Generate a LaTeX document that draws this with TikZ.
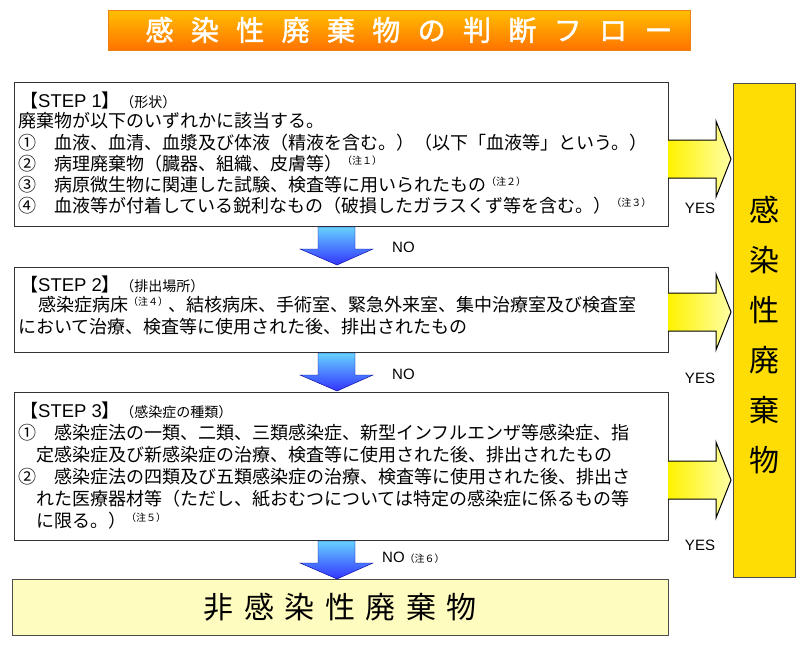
\documentclass[tikz,border=0pt]{standalone}
\usepackage{fontspec}
\setmainfont{Noto Sans CJK JP}
\newfontfamily\jpf{Noto Sans CJK JP}
\newfontfamily\titlef[LetterSpace=62,FakeBold=1.5]{Noto Sans CJK JP}
\newfontfamily\bigf[LetterSpace=35]{Noto Sans CJK JP}
\newfontfamily\latf{Liberation Sans}
\newcommand{\chu}[1]{\raisebox{6pt}{\fontsize{10}{10}\selectfont #1}}
\begin{document}
\begin{tikzpicture}[x=1pt,y=-1pt,
  stepbox/.style={draw=black!80,line width=1pt,fill=white},
  txt/.style={anchor=west,inner sep=0,font=\fontsize{18}{19}\selectfont},
  downarrow/.style={draw=blue!60!black,line width=0.4pt,top color=cyan!70!blue!60,bottom color=blue!80},
  yesarrow/.style={draw=black,line width=1pt,left color=yellow!90!orange,right color=yellow!35},
  lab/.style={font=\latf\fontsize{15}{15}\selectfont,inner sep=0}]
\useasboundingbox (0,0) rectangle (809,645);
\fill[white] (0,0) rectangle (809,645);
% title
\node[draw=orange!70!brown,line width=1pt,minimum width=582pt,minimum height=40pt,top color=orange!50!yellow,bottom color=orange!90!red,inner sep=0] (title) at (399,30)
  {\titlef\fontsize{28}{28}\selectfont\color{white}\hspace*{20pt}感染性廃棄物の判断フロー};
% right box
\node[draw=black!70,line width=1pt,fill=yellow!80!orange,minimum width=62pt,minimum height=494pt,inner sep=0] (res) at (764,330) {};
\foreach \c [count=\i] in {感,染,性,廃,棄,物}
  \node[inner sep=0,font=\fontsize{30}{30}\selectfont] (r\i) at (764,160+50*\i) {\c};
% boxes
\node[stepbox,minimum width=654pt,minimum height=144pt,inner sep=0] (s1) at (341,154) {};
\node[stepbox,minimum width=654pt,minimum height=85pt,inner sep=0] (s2) at (341,309.5) {};
\node[stepbox,minimum width=654pt,minimum height=148pt,inner sep=0] (s3) at (341,466) {};
\node[draw=black!70,line width=1pt,fill=yellow!25,minimum width=656pt,minimum height=56pt,inner sep=0] (s4) at (340,607)
  {\bigf\fontsize{30}{30}\selectfont 非感染性廃棄物};
% step1 text
\node[txt] (a1) at (20,100) {【\latf\fontsize{18.5}{18}\selectfont STEP 1\jpf】\fontsize{14}{14}\selectfont（形状）};
\node[txt] (a2) at (18,121) {廃棄物が以下のいずれかに該当する。};
\node[txt] (a3) at (18,143) {①\quad 血液、血清、血漿及び体液（精液を含む。）（以下「血液等」という。）};
\node[txt] (a4) at (18,164) {②\quad 病理廃棄物（臓器、組織、皮膚等）\chu{（注１）}};
\node[txt] (a5) at (18,185) {③\quad 病原微生物に関連した試験、検査等に用いられたもの\chu{（注２）}};
\node[txt] (a6) at (18,206) {④\quad 血液等が付着している鋭利なもの（破損したガラスくず等を含む。）\chu{（注３）}};
% step2 text
\node[txt] (b1) at (20,284) {【\latf\fontsize{18.5}{18}\selectfont STEP 2\jpf】\fontsize{14}{14}\selectfont（排出場所）};
\node[txt] (b2) at (38,305) {感染症病床\chu{（注４）}、結核病床、手術室、緊急外来室、集中治療室及び検査室};
\node[txt] (b3) at (18,327) {において治療、検査等に使用された後、排出されたもの};
% step3 text
\node[txt] (c1) at (20,410) {【\latf\fontsize{18.5}{18}\selectfont STEP 3\jpf】\fontsize{14}{14}\selectfont（感染症の種類）};
\node[txt] (c2) at (18,433) {①\quad 感染症法の一類、二類、三類感染症、新型インフルエンザ等感染症、指};
\node[txt] (c3) at (36,455) {定感染症及び新感染症の治療、検査等に使用された後、排出されたもの};
\node[txt] (c4) at (18,477) {②\quad 感染症法の四類及び五類感染症の治療、検査等に使用された後、排出さ};
\node[txt] (c5) at (36,499) {れた医療器材等（ただし、紙おむつについては特定の感染症に係るもの等};
\node[txt] (c6) at (36,521) {に限る。）\chu{（注５）}};
% down arrows
\foreach \yy in {227,353,541}
  \draw[downarrow] (318,\yy) -- (355,\yy) -- (355,\yy+22) -- (373,\yy+22) -- (337,\yy+38) -- (300,\yy+22) -- (318,\yy+22) -- cycle;
\node[lab,anchor=west] (n1) at (392,247) {NO};
\node[lab,anchor=west] (n2) at (392,374) {NO};
\node[lab,anchor=west] (n3) at (382,558) {NO\jpf\fontsize{10}{10}\selectfont（注６）};
% yes arrows
\foreach \yy in {159,312,480}
  \draw[yesarrow] (668,\yy-19) -- (716,\yy-19) -- (716,\yy-38) -- (731,\yy) -- (716,\yy+38) -- (716,\yy+19) -- (668,\yy+19);
\node[lab] (t1) at (700,208) {YES};
\node[lab] (t2) at (700,378) {YES};
\node[lab] (t3) at (700,545) {YES};
\end{tikzpicture}
\end{document}
